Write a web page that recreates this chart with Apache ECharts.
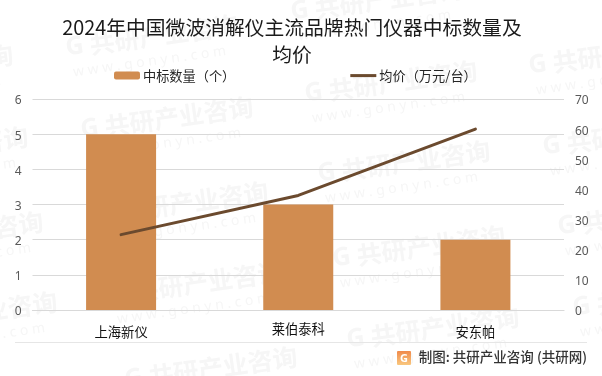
<!DOCTYPE html>
<html><head><meta charset="utf-8">
<style>html,body{margin:0;padding:0;background:#fff}#c{width:602px;height:376px}</style>
<script src="https://cdn.jsdelivr.net/npm/echarts@6/dist/echarts.min.js"></script>
</head><body><div id="c"></div>
<script>
const titleText = '2024年中国微波消解仪主流品牌热门仪器中标数量及\n均价';
const categories = ['上海新仪', '莱伯泰科', '安东帕'];
const countName = '中标数量（个）';
const priceName = '均价（万元/台）';
const countValues = [5, 3, 2];
const priceValues = [25, 38, 60];
const sourceText = '制图: 共研产业咨询 (共研网)';
const watermarkName = '共研产业咨询';
const watermarkSite = 'w w w . g o n y n . c o m';
const watermarkSpots = [[-72,66],[-57,148],[-42,233],[-28,313],[153,36],[168,118],[183,203],[197,283],[212,368],[378,0],[392,82],[405,162],[420,247],[434,328],[616,54],[630,135],[645,215],[660,296]];

const font = '"Noto Sans CJK SC","Noto Sans",sans-serif';
const markColor = '#f6f6f6';
const wm = watermarkSpots.map(([x, y]) => ({
  type: 'group', x, y, rotation: 0.14, z: -10, silent: true,
  children: [
    { type: 'text', z: -10, style: { x: -88, y: 0, text: 'G', font: 'bold 25px "Noto Sans",sans-serif', fill: markColor, textVerticalAlign: 'middle', textAlign: 'left' } },
    { type: 'text', z: -10, style: { x: -64, y: 0, text: watermarkName, font: 'bold 25px ' + font, fill: markColor, textVerticalAlign: 'middle', textAlign: 'left' } },
    { type: 'text', z: -10, style: { x: -84, y: 25, text: watermarkSite, font: '14px "Noto Sans",sans-serif', fill: markColor, textVerticalAlign: 'middle', textAlign: 'left' } }
  ]
}));

const valueLabel = {
  margin: 11,
  formatter: v => '{n|' + v + '}',
  rich: { n: { fontFamily: '"Noto Sans",sans-serif', fontSize: 12, color: '#595959', padding: [4, 0, 0, 0] } }
};

const chart = echarts.init(document.getElementById('c'), null, { renderer: 'canvas' });
chart.setOption({
  animation: false,
  backgroundColor: '#fff',
  title: {
    text: titleText, left: 292, top: 14, padding: 0, textAlign: 'center',
    textStyle: { fontFamily: font, fontSize: 19.8, fontWeight: 'normal', color: '#1a1a1a', lineHeight: 27 }
  },
  legend: {
    left: 114, top: 69, padding: 0, itemWidth: 26, itemHeight: 8, itemGap: 115,
    textStyle: { fontFamily: font, fontSize: 13.2, color: '#262626', padding: [0, 0, 0, -2] },
    data: [
      { name: countName },
      { name: priceName, icon: 'path://M0 0L0 0M26 8L26 8M0 2.5H26V5.5H0Z' }
    ]
  },
  grid: { left: 32.5, right: 38, top: 99, bottom: 66 },
  xAxis: {
    type: 'category', data: categories,
    axisTick: { show: false },
    axisLine: { lineStyle: { color: '#d9d9d9', width: 1.2 } },
    axisLabel: {
      interval: 0, margin: 12,
      formatter: (v, i) => i === 1 ? '{b|' + v + '}' : '{a|' + v + '}',
      rich: {
        a: { fontFamily: font, fontSize: 13.3, color: '#111', padding: [3, 0, 0, 0] },
        b: { fontFamily: font, fontSize: 13.3, color: '#111', padding: [0, 0, 6, 0] }
      }
    }
  },
  yAxis: [
    { type: 'value', min: 0, max: 6, interval: 1,
      axisLine: { show: false }, axisTick: { show: false },
      axisLabel: valueLabel,
      splitLine: { lineStyle: { color: '#d9d9d9', width: 1.2 } } },
    { type: 'value', min: 0, max: 70, interval: 10,
      axisLine: { show: false }, axisTick: { show: false },
      axisLabel: valueLabel,
      splitLine: { show: false } }
  ],
  series: [
    { name: countName, type: 'bar', data: countValues, barWidth: 70, itemStyle: { color: '#D18C50' } },
    { name: priceName, type: 'line', yAxisIndex: 1, data: priceValues, symbol: 'none', smooth: false,
      lineStyle: { color: '#6B4A2E', width: 3, cap: 'round', join: 'round' }, itemStyle: { color: '#6B4A2E' } }
  ],
  graphic: wm.concat([
    { type: 'line', silent: true, shape: { x1: 15, y1: 342.5, x2: 587, y2: 342.5 }, style: { stroke: '#e6e6e6', lineWidth: 1 } },
    { type: 'rect', silent: true, shape: { x: 397, y: 351, width: 14, height: 14, r: 1 },
      style: { fill: new echarts.graphic.LinearGradient(0, 0, 0, 1, [{ offset: 0, color: '#F08A4B' }, { offset: 1, color: '#F9C77E' }]) } },
    { type: 'text', silent: true, style: { x: 404, y: 358.5, text: 'G', font: 'bold 11px "Noto Sans",sans-serif', fill: '#fff', textAlign: 'center', textVerticalAlign: 'middle' } },
    { type: 'text', silent: true, style: { x: 587, y: 357, text: sourceText, font: '500 13.5px ' + font, fill: '#333', textAlign: 'right', textVerticalAlign: 'middle' } }
  ])
});
</script></body></html>
